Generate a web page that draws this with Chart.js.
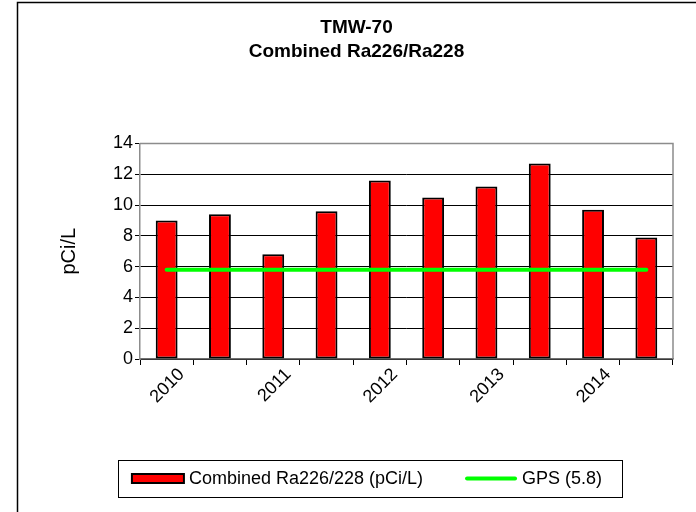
<!DOCTYPE html>
<html>
<head>
<meta charset="utf-8">
<title>TMW-70 Combined Ra226/Ra228</title>
<script src="https://cdn.jsdelivr.net/npm/chart.js@4/dist/chart.umd.min.js"></script>
<style>
    html, body { margin: 0; padding: 0; background: #ffffff; }
    #chartBox { width: 696px; height: 512px; }
</style>
</head>
<body>
<div id="chartBox"><canvas id="radiumChart" width="696" height="512"></canvas></div>
<script>
// sampling events, labelled once per year
const sampleLabels = ['2010', '', '2011', '', '2012', '', '2013', '', '2014', ''];
const radiumValues = [9.0, 9.4, 6.8, 9.6, 11.6, 10.5, 11.2, 12.7, 9.7, 7.9];
const gpsLevel = 5.8;
const gpsValues = [5.8, 5.8, 5.8, 5.8, 5.8, 5.8, 5.8, 5.8, 5.8, 5.8];
const yMin = 0;
const yMax = 14;
const yStep = 2;

const fontFamily = '"Liberation Sans", Arial, Helvetica, sans-serif';

// page frame (left and top edges only are inside the canvas)
const frame = {
    id: 'frame',
    beforeDraw(chart) {
        const ctx = chart.ctx;
        ctx.save();
        ctx.fillStyle = '#ffffff';
        ctx.fillRect(0, 0, chart.width, chart.height);
        ctx.strokeStyle = '#000000';
        ctx.lineWidth = 1.5;
        ctx.beginPath();
        ctx.moveTo(17.5, chart.height + 2);
        ctx.lineTo(17.5, 2.5);
        ctx.lineTo(chart.width + 2, 2.5);
        ctx.stroke();
        ctx.restore();
    },
    beforeDatasetsDraw(chart) {
        // grey top and right edge of the plot area
        const a = chart.chartArea;
        const ctx = chart.ctx;
        ctx.save();
        ctx.strokeStyle = '#8c8c8c';
        ctx.lineWidth = 1.5;
        ctx.beginPath();
        ctx.moveTo(a.left, a.top);
        ctx.lineTo(a.right, a.top);
        ctx.lineTo(a.right, a.bottom);
        ctx.stroke();
        ctx.restore();
    }
};

// boxed legend under the axis
const boxedLegend = {
    id: 'boxedLegend',
    afterDraw(chart) {
        const ctx = chart.ctx;
        const datasets = chart.data.datasets;
        const bars = datasets.find(d => d.type === 'bar');
        const gps = datasets.find(d => d.type === 'line');
        const box = { left: 118, top: 460, right: 622, bottom: 497 };
        const midY = (box.top + box.bottom) / 2;
        const swatchW = 52;
        const gap = 5;
        const itemGap = 42;

        ctx.save();
        ctx.strokeStyle = '#000000';
        ctx.lineWidth = 1;
        ctx.strokeRect(box.left + 0.5, box.top + 0.5, box.right - box.left, box.bottom - box.top);

        ctx.font = '18px ' + fontFamily;
        ctx.textBaseline = 'middle';
        const w0 = ctx.measureText(bars.label).width;
        const w1 = ctx.measureText(gps.label).width;
        const total = swatchW + gap + w0 + itemGap + swatchW + gap + w1;
        let x = (box.left + box.right) / 2 - total / 2 - 3;

        // bar swatch
        ctx.fillStyle = bars.backgroundColor;
        ctx.fillRect(x, midY - 4.5, swatchW, 9);
        ctx.strokeStyle = bars.borderColor;
        ctx.lineWidth = 2;
        ctx.strokeRect(x, midY - 4.5, swatchW, 9);
        x += swatchW + gap;
        ctx.fillStyle = '#000000';
        ctx.fillText(bars.label, x, midY + 1);
        x += w0 + itemGap;

        // line swatch
        ctx.strokeStyle = gps.borderColor;
        ctx.lineWidth = gps.borderWidth;
        ctx.lineCap = 'round';
        ctx.beginPath();
        ctx.moveTo(x + 2, midY);
        ctx.lineTo(x + swatchW - 2, midY);
        ctx.stroke();
        x += swatchW + gap;
        ctx.fillText(gps.label, x, midY + 1);
        ctx.restore();
    }
};

const ctx = document.getElementById('radiumChart').getContext('2d');
new Chart(ctx, {
    data: {
        labels: sampleLabels,
        datasets: [
            {
                type: 'bar',
                label: 'Combined Ra226/228 (pCi/L)',
                data: radiumValues,
                backgroundColor: '#ff0000',
                borderColor: '#000000',
                borderWidth: 2,
                borderSkipped: false,
                barPercentage: 0.41,
                categoryPercentage: 1.0,
                order: 1
            },
            {
                type: 'line',
                label: 'GPS (' + gpsLevel + ')',
                data: gpsValues,
                borderColor: '#00ff00',
                borderWidth: 4,
                borderCapStyle: 'round',
                pointRadius: 0,
                fill: false,
                order: 0
            }
        ]
    },
    options: {
        responsive: false,
        devicePixelRatio: 1,
        animation: false,
        layout: { padding: { left: 17, right: 0, top: 0, bottom: 63 } },
        plugins: {
            legend: { display: false },
            tooltip: { enabled: false },
            title: {
                display: true,
                text: ['TMW-70', 'Combined Ra226/Ra228'],
                color: '#000000',
                font: { family: fontFamily, size: 19, weight: 'bold', lineHeight: 1.25 },
                padding: { top: 16, bottom: 80 }
            }
        },
        scales: {
            x: {
                offset: true,
                grid: {
                    offset: true,
                    drawOnChartArea: false,
                    drawTicks: true,
                    tickLength: 6,
                    color: '#000000',
                    lineWidth: 1
                },
                border: { display: true, color: '#707070', width: 1.5 },
                ticks: {
                    autoSkip: false,
                    minRotation: 45,
                    maxRotation: 45,
                    padding: -1,
                    labelOffset: 15,
                    color: '#000000',
                    font: { family: fontFamily, size: 18 }
                },
                afterFit(scale) { scale.height = 90; }
            },
            y: {
                min: yMin,
                max: yMax,
                grid: {
                    color: '#000000',
                    lineWidth: 1,
                    tickLength: 5
                },
                border: { display: true, color: '#8c8c8c', width: 1.5 },
                ticks: {
                    stepSize: yStep,
                    padding: 2,
                    color: '#000000',
                    font: { family: fontFamily, size: 18 }
                },
                title: {
                    display: true,
                    text: 'pCi/L',
                    color: '#000000',
                    font: { family: fontFamily, size: 20 },
                    padding: { top: 40, bottom: 0 }
                },
                afterFit(scale) { scale.width = 123; }
            },
            yRight: {
                position: 'right',
                display: true,
                grid: { display: false },
                border: { display: false },
                ticks: { display: false },
                afterFit(scale) { scale.width = 23; }
            }
        }
    },
    plugins: [frame, boxedLegend]
});
</script>
</body>
</html>
